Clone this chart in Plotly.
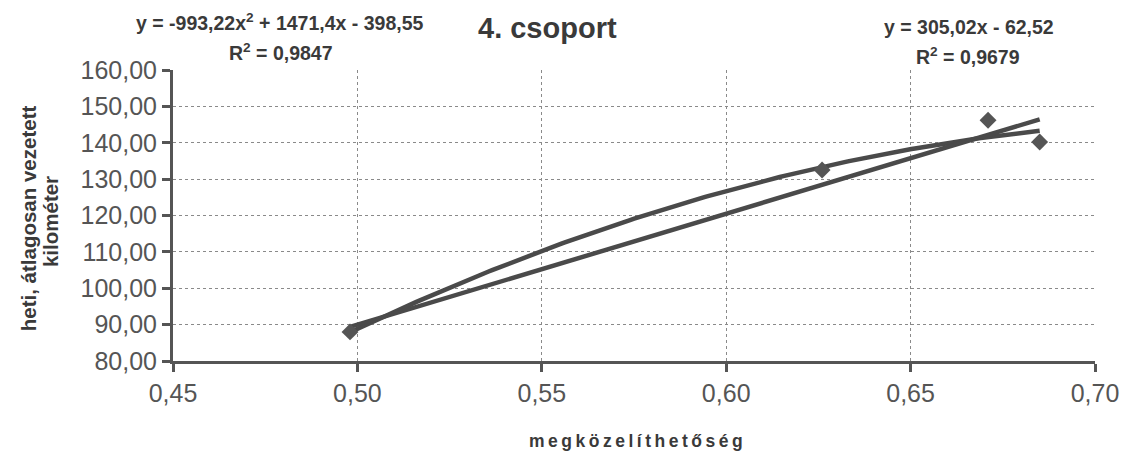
import numpy as np
import plotly.graph_objects as go

# ---- data ----
x_vals = [0.498, 0.626, 0.671, 0.685]
y_vals = [88.0, 132.5, 146.2, 140.2]

poly_coef = [-993.22, 1471.4, -398.55]   # y = -993,22x² + 1471,4x - 398,55
lin_coef = [305.02, -62.52]              # y = 305,02x - 62,52

x_ticks = [0.45, 0.50, 0.55, 0.60, 0.65, 0.70]
x_tick_labels = ["0,45", "0,50", "0,55", "0,60", "0,65", "0,70"]
y_ticks = [80, 90, 100, 110, 120, 130, 140, 150, 160]
y_tick_labels = ["80,00", "90,00", "100,00", "110,00", "120,00", "130,00",
                 "140,00", "150,00", "160,00"]

title_text = "4. csoport"
poly_eq = "y = -993,22x<sup>2</sup> + 1471,4x - 398,55"
poly_r2 = "R<sup>2</sup> = 0,9847"
lin_eq = "y = 305,02x - 62,52"
lin_r2 = "R<sup>2</sup> = 0,9679"
x_title = "megközelíthetőség"
y_title_1 = "heti, átlagosan vezetett"
y_title_2 = "kilométer"

# ---- layout geometry (pixels) ----
W, H = 1131, 452
L, R, T, B = 173, 28, 70, 91
PW, PH = W - L - R, H - T - B


def px(x):
    return (x - L) / PW


def py(y):
    return (H - B - y) / PH


FONT = "Liberation Sans, Arial, sans-serif"
DARK = "#3a3a3a"
MID = "#555555"

fig = go.Figure()

xs = np.linspace(min(x_vals), max(x_vals), 200)
fig.add_trace(go.Scatter(x=xs, y=np.polyval(poly_coef, xs), mode="lines",
                         line=dict(color="#4a4a4a", width=4.5),
                         showlegend=False, hoverinfo="skip"))
fig.add_trace(go.Scatter(x=xs, y=np.polyval(lin_coef, xs), mode="lines",
                         line=dict(color="#4a4a4a", width=4.5),
                         showlegend=False, hoverinfo="skip"))
fig.add_trace(go.Scatter(x=x_vals, y=y_vals, mode="markers",
                         marker=dict(symbol="diamond", size=13, color="#555555"),
                         showlegend=False))

axis_common = dict(
    showline=True, linecolor=MID, linewidth=3,
    ticks="outside", ticklen=8, tickwidth=3, tickcolor=MID,
    showgrid=True, gridcolor="#8a8a8a", gridwidth=1, griddash="dot",
    zeroline=False,
    tickfont=dict(family=FONT, size=25, color=MID),
)

fig.update_xaxes(range=[0.45, 0.70], tickmode="array", tickvals=x_ticks,
                 ticktext=x_tick_labels, **axis_common)
fig.update_yaxes(range=[80, 160], tickmode="array", tickvals=y_ticks,
                 ticktext=y_tick_labels, **axis_common)

ann = []


def add_text(text, x, y, size, rot=0, color=DARK):
    ann.append(dict(text=text, x=px(x), y=py(y), xref="paper", yref="paper",
                    showarrow=False, xanchor="center", yanchor="middle",
                    textangle=rot,
                    font=dict(family=FONT, size=size, color=color, weight="bold")))


add_text(title_text, 551, 28, 29)
add_text(poly_eq, 280, 22, 19.5)
add_text(poly_r2, 282, 52, 19.5)
add_text(lin_eq, 976, 27, 19.5)
add_text(lin_r2, 975, 56, 19.5)
add_text(y_title_1, 27, 218, 20.5, rot=-90)
add_text(y_title_2, 50, 222, 20.5, rot=-90)
add_text("\u2009".join(x_title), 640, 441, 17.5)

fig.update_layout(
    width=W, height=H,
    margin=dict(l=L, r=R, t=T, b=B),
    paper_bgcolor="white", plot_bgcolor="white",
    annotations=ann,
    showlegend=False,
)

fig.write_html("out.html")
